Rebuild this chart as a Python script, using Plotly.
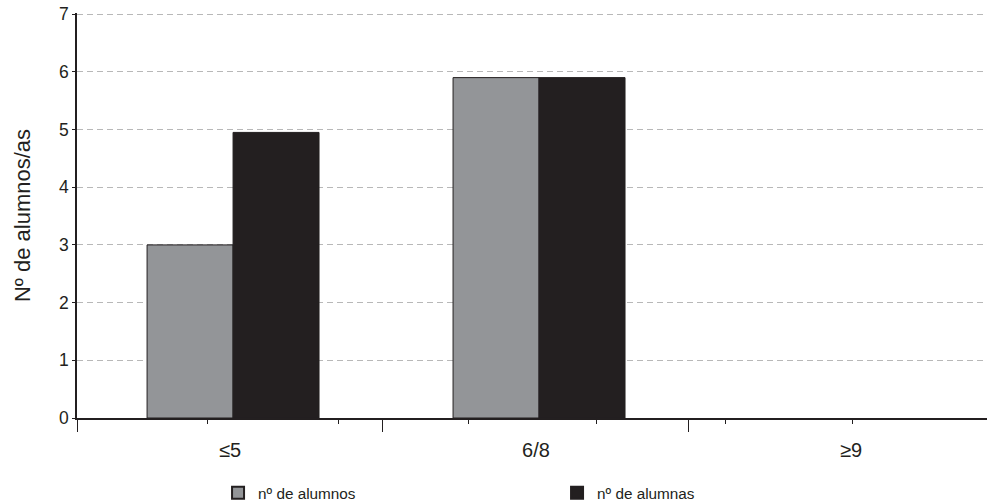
import plotly.graph_objects as go

# Score bands and pupil counts
categories = ["≤5", "6/8", "≥9"]
alumnos = [3.0, 5.9, 0.0]
alumnas = [4.95, 5.9, 0.0]
y_ticks = [0, 1, 2, 3, 4, 5, 6, 7]

x_pos = list(range(len(categories)))
label_pos = [0, 1, 2.03]
x_range = [-0.5, 2.474]
boundary_ticks = [-0.5, 0.5, 1.5]
minor_ticks = [-0.072, 0.356, 0.781, 1.199, 1.618, 2.033]

AXIS = "#231f20"
FONT = "Liberation Sans, Arial, sans-serif"
BAR_W = 0.281


def outline(values):
    # no outline on empty bars so nothing is drawn on the baseline
    return [1 if v > 0 else 0 for v in values]


fig = go.Figure()
fig.add_trace(go.Bar(
    x=x_pos, y=alumnos, name="nº de alumnos",
    marker=dict(color="#939598", line=dict(color=AXIS, width=outline(alumnos))),
    width=BAR_W, offset=-BAR_W + 0.01,
))
fig.add_trace(go.Bar(
    x=x_pos, y=alumnas, name="nº de alumnas",
    marker=dict(color="#231f20", line=dict(color=AXIS, width=outline(alumnas))),
    width=BAR_W, offset=0.01,
))
# empty traces that carry the two tick-only overlay axes
for ax in ("x2", "x3"):
    fig.add_trace(go.Scatter(x=[], y=[], xaxis=ax, yaxis="y",
                             showlegend=False, hoverinfo="skip"))

fig.update_layout(
    width=987, height=504,
    margin=dict(l=77, r=0, t=13, b=86),
    paper_bgcolor="white", plot_bgcolor="white",
    barmode="overlay",
    font=dict(family=FONT, size=16, color="#231f20"),
    showlegend=True,
    legend=dict(
        orientation="h", x=0.155, xanchor="left",
        yref="container", y=0.022, yanchor="middle",
        entrywidth=294, font=dict(size=15.3), itemsizing="constant",
    ),
    xaxis=dict(
        range=x_range, tickmode="array", tickvals=label_pos, ticktext=categories,
        ticks="outside", ticklen=13, tickcolor="rgba(0,0,0,0)",
        showline=True, linecolor=AXIS, linewidth=1.5,
        showgrid=False, zeroline=False, tickfont=dict(size=20),
    ),
    xaxis2=dict(
        overlaying="x", anchor="y", side="bottom", range=x_range,
        tickmode="array", tickvals=boundary_ticks, ticks="outside",
        ticklen=13, tickwidth=1.2, tickcolor=AXIS,
        showticklabels=False, showline=False, showgrid=False, zeroline=False,
    ),
    xaxis3=dict(
        overlaying="x", anchor="y", side="bottom", range=x_range,
        tickmode="array", tickvals=minor_ticks, ticks="outside",
        ticklen=5, tickwidth=1.2, tickcolor=AXIS,
        showticklabels=False, showline=False, showgrid=False, zeroline=False,
    ),
    yaxis=dict(
        range=[0, 7.02], tickmode="array", tickvals=y_ticks,
        ticks="outside", ticklen=3, tickcolor=AXIS,
        showline=True, linecolor=AXIS, linewidth=1.5,
        showgrid=True, gridcolor="#b8b8b8", griddash="6px,4px", gridwidth=1,
        zeroline=False,
        title=dict(text="Nº de alumnos/as", font=dict(size=22), standoff=22),
        tickfont=dict(size=17.5),
    ),
)

fig.write_html("out.html")
